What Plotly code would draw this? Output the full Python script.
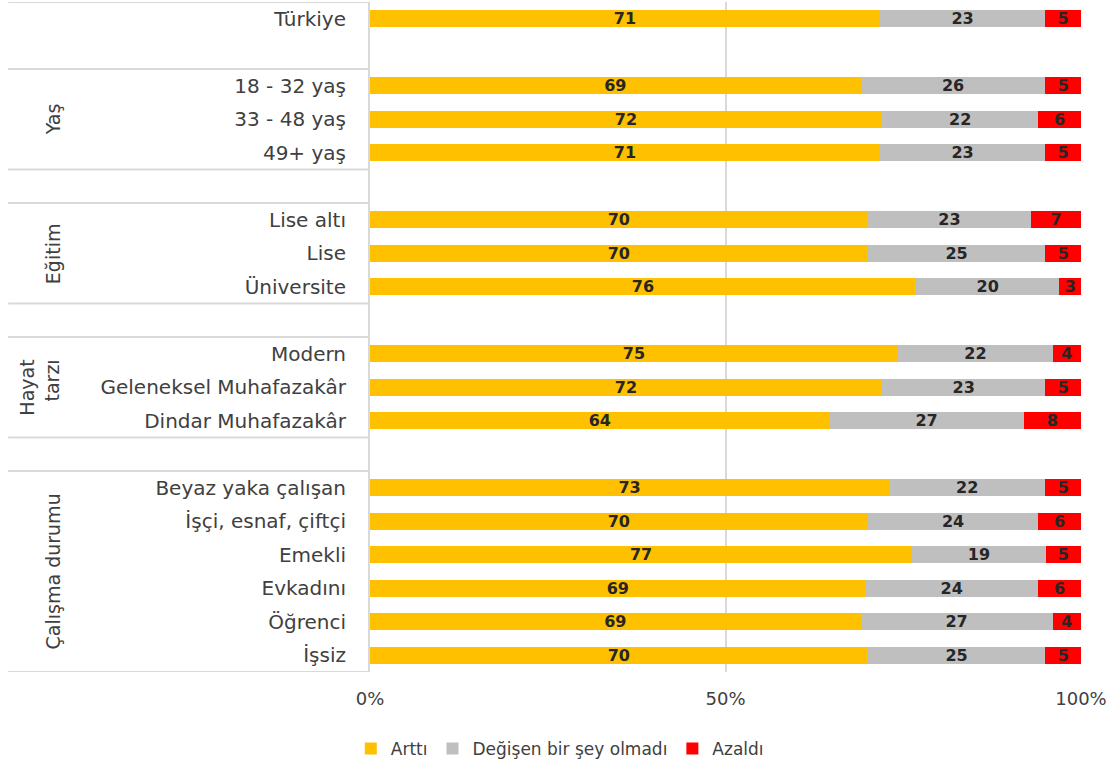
import plotly.graph_objects as go

# group label -> category rows
group_names = ["", "Yaş", "Eğitim", "Hayat<br>tarzı", "Çalışma durumu"]
group_rows = [
    ["Türkiye"],
    ["18 - 32 yaş", "33 - 48 yaş", "49+ yaş"],
    ["Lise altı", "Lise", "Üniversite"],
    ["Modern", "Geleneksel Muhafazakâr", "Dindar Muhafazakâr"],
    ["Beyaz yaka çalışan", "İşçi, esnaf, çiftçi", "Emekli", "Evkadını", "Öğrenci", "İşsiz"],
]

artti = [71, 69, 72, 71, 70, 70, 76, 75, 72, 64, 73, 70, 77, 69, 69, 70]
degismedi = [23, 26, 22, 23, 23, 25, 20, 22, 23, 27, 22, 24, 19, 24, 27, 25]
azaldi = [5, 5, 6, 5, 7, 5, 3, 4, 5, 8, 5, 6, 5, 6, 4, 5]

series_names = ["Arttı", "Değişen bir şey olmadı", "Azaldı"]
colors = ["#FFC000", "#BFBFBF", "#FF0000"]

x_ticks = [0, 50, 100]
x_ticktext = ["0%", "50%", "100%"]

# row positions: a blank row after every group except the last
labels, ypos, spans = [], [], []
row = 0
for i, rows in enumerate(group_rows):
    start = row
    for r in rows:
        labels.append(r)
        ypos.append(row)
        row += 1
    spans.append((start, row - 1))
    if i < len(group_rows) - 1:
        row += 1
n_rows = row

fig = go.Figure()
for name, vals, col in zip(series_names, [artti, degismedi, azaldi], colors):
    fig.add_trace(go.Bar(
        y=ypos, x=vals, name=name, orientation="h",
        marker=dict(color=col, line=dict(width=0)),
        width=0.52,
        text=[str(v) for v in vals],
        textposition="inside",
        insidetextanchor="middle",
        textangle=0,
        constraintext="none",
        textfont=dict(family="DejaVu Sans", size=16, color="#262626", weight="bold"),
        hoverinfo="skip",
    ))

# separator lines in the label area
line_style = dict(color="#D9D9D9", width=2)
bounds = [-0.5]
for start, end in spans[1:]:
    bounds += [start - 0.5, end + 0.5]
for b in bounds:
    fig.add_shape(type="line", xref="paper", yref="y", x0=-0.509, x1=0, y0=b, y1=b,
                  line=line_style, layer="below")

# group labels
for name, (start, end) in zip(group_names, spans):
    if not name:
        continue
    xp = -0.465 if "<br>" in name else -0.446
    fig.add_annotation(
        x=xp, xref="paper", y=(start + end) / 2, yref="y",
        xanchor="center", yanchor="middle",
        text=name, textangle=-90, showarrow=False, align="right",
        font=dict(family="DejaVu Sans", size=19, color="#404040"),
    )

fig.update_layout(
    width=1119, height=765,
    barmode="stack", barnorm="percent",
    plot_bgcolor="white", paper_bgcolor="white",
    margin=dict(l=370, r=38, t=2, b=93, autoexpand=False),
    font=dict(family="DejaVu Sans", color="#404040"),
    showlegend=True,
    legend=dict(
        orientation="h", x=-0.027, xanchor="left", y=-0.088, yanchor="top",
        font=dict(size=17, color="#404040"),
        itemwidth=30, traceorder="normal",
    ),
    xaxis=dict(
        range=[0, 100], tickvals=x_ticks, ticktext=x_ticktext,
        showgrid=True, gridcolor="#D9D9D9", gridwidth=1.5,
        zeroline=False, showline=False, automargin=False,
        tickfont=dict(size=18, color="#404040"),
        ticklabelstandoff=14,
    ),
    yaxis=dict(
        range=[n_rows - 0.5, -0.5],
        tickvals=ypos, ticktext=labels,
        showgrid=False, zeroline=False, automargin=False,
        showline=True, linecolor="#D9D9D9", linewidth=2,
        tickfont=dict(size=20, color="#404040"),
        ticklabelstandoff=18,
    ),
)

fig.write_html("out.html", config=dict(displayModeBar=False),
               post_script="document.body.style.margin='0';")
